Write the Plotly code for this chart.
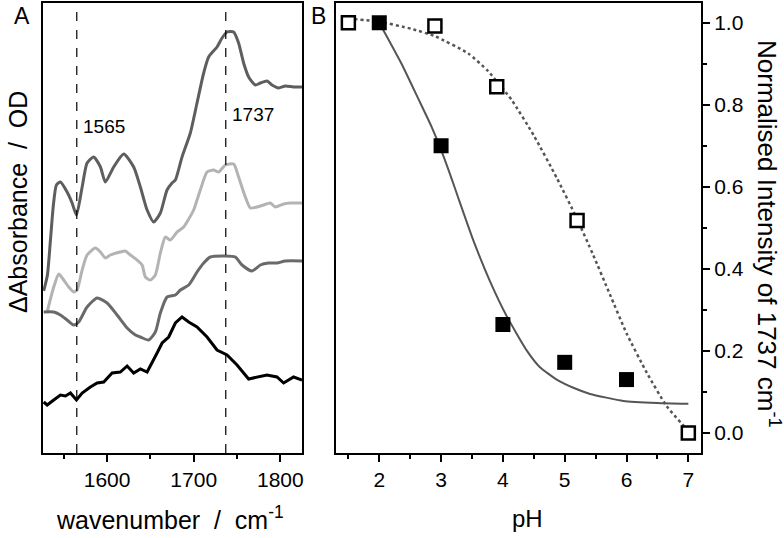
import plotly.graph_objects as go

# ---------------- Panel A: difference spectra (arbitrary ΔAbs units) ----------------
wn_top = [1526.8, 1531.1, 1534.6, 1538.0, 1541.5, 1546.1, 1553.8, 1559.6, 1564.6, 1571.2,
          1576.9, 1584.5, 1592.3, 1598.0, 1607.6, 1619.2, 1630.7, 1638.4, 1646.2, 1653.8,
          1661.5, 1669.2, 1675.0, 1678.8, 1686.5, 1696.1, 1703.8, 1711.5, 1717.2, 1726.9,
          1732.7, 1738.5, 1746.1, 1751.8, 1757.6, 1763.4, 1771.1, 1776.9, 1784.6, 1790.4,
          1798.0, 1805.7, 1815.3, 1825.0]
abs_top = [162, 178, 213, 248, 268, 271, 261, 250, 238, 266,
           290, 296, 286, 271, 286, 299, 286, 266, 243, 231,
           240, 263, 270, 273, 296, 320, 350, 380, 396, 406,
           415, 421, 421, 410, 390, 376, 368, 370, 372, 368,
           365, 367, 366, 366]

wn_light = [1530.8, 1538.4, 1544.2, 1549.9, 1555.7, 1561.5, 1565.4, 1571.2, 1576.9, 1586.5,
            1592.3, 1598.0, 1603.8, 1615.3, 1621.1, 1626.9, 1634.6, 1640.4, 1644.2, 1650.0,
            1655.7, 1661.5, 1667.3, 1673.0, 1680.8, 1688.4, 1699.9, 1703.8, 1707.6, 1715.4,
            1723.0, 1728.7, 1736.5, 1746.1, 1751.8, 1759.6, 1765.3, 1773.1, 1780.7, 1788.4,
            1794.2, 1803.8, 1811.5, 1825.0]
abs_light = [141, 166, 179, 173, 166, 161, 163, 183, 198, 205,
             201, 195, 198, 201, 202, 198, 193, 188, 176, 173,
             178, 200, 216, 213, 221, 226, 243, 253, 263, 281,
             283, 281, 288, 289, 276, 256, 245, 246, 248, 250,
             246, 249, 250, 250]

wn_mid = [1526.8, 1538.4, 1546.1, 1553.8, 1561.5, 1567.2, 1576.9, 1588.5, 1600.0, 1611.5,
          1623.1, 1632.7, 1638.4, 1648.0, 1655.7, 1661.5, 1669.2, 1678.8, 1684.6, 1694.2,
          1703.8, 1711.5, 1719.2, 1736.5, 1748.0, 1755.8, 1767.3, 1776.9, 1786.5, 1796.1,
          1805.7, 1825.0]
abs_mid = [141, 141, 138, 133, 128, 131, 146, 155, 150, 138,
           125, 118, 116, 113, 121, 140, 156, 158, 163, 168,
           181, 190, 196, 197, 196, 188, 182, 188, 190, 190,
           192, 192]

wn_black = [1526.8, 1530.8, 1538.4, 1546.1, 1551.9, 1557.7, 1564.6, 1571.2, 1580.7, 1588.5,
            1596.1, 1605.8, 1615.3, 1623.1, 1630.7, 1638.4, 1646.2, 1651.9, 1657.7, 1663.5,
            1671.1, 1678.8, 1686.5, 1694.2, 1703.8, 1715.4, 1726.9, 1738.5, 1750.0, 1763.4,
            1773.1, 1784.6, 1796.1, 1803.8, 1815.3, 1825.0]
abs_black = [51, 48, 53, 58, 57, 60, 53, 60, 66, 70,
             71, 80, 81, 87, 80, 84, 81, 90, 100, 110,
             116, 130, 136, 131, 126, 116, 103, 98, 88, 74,
             76, 78, 76, 70, 76, 73]

marker_lines = [1565, 1737]
marker_labels = ["1565", "1737"]
marker_label_y = [327, 338.5]

# ---------------- Panel B: normalised intensity vs pH ----------------
ph_filled = [2, 3, 4, 5, 6]
int_filled = [1.0, 0.70, 0.264, 0.172, 0.13]
ph_open = [1.5, 2.9, 3.9, 5.2, 7.0]
int_open = [1.0, 0.992, 0.844, 0.518, 0.0]

fit_ph_solid = [2.0, 2.36, 2.63, 2.85, 3.0, 3.17, 3.28, 3.52, 3.79, 4.06, 4.39, 4.6, 4.87, 5.14, 5.41, 5.95, 6.5, 7.0]
fit_solid = [1.0, 0.9, 0.815, 0.745, 0.69, 0.62, 0.572, 0.47, 0.37, 0.285, 0.2, 0.16, 0.13, 0.11, 0.095, 0.078, 0.073, 0.071]
fit_ph_dot = [1.5, 1.98, 2.52, 2.9, 3.44, 3.76, 4.14, 4.5, 4.87, 5.19, 5.46, 5.73, 6.0, 6.33, 6.65, 7.0]
fit_dot = [1.01, 1.003, 0.985, 0.967, 0.925, 0.882, 0.812, 0.725, 0.622, 0.525, 0.434, 0.338, 0.243, 0.146, 0.065, 0.005]

FONT = "Arial, Liberation Sans, sans-serif"

fig = go.Figure()

for wn, ab, col in [(wn_top, abs_top, "#5e5e5e"), (wn_light, abs_light, "#b3b3b3"),
                    (wn_mid, abs_mid, "#6a6a6a")]:
    fig.add_trace(go.Scatter(x=wn, y=ab, mode="lines", xaxis="x", yaxis="y",
                             line=dict(color=col, width=3, shape="spline", smoothing=0.6),
                             showlegend=False, hoverinfo="skip"))
fig.add_trace(go.Scatter(x=wn_black, y=abs_black, mode="lines", xaxis="x", yaxis="y",
                         line=dict(color="#000000", width=3),
                         showlegend=False, hoverinfo="skip"))

fig.add_trace(go.Scatter(x=fit_ph_solid, y=fit_solid, mode="lines", xaxis="x2", yaxis="y2",
                         line=dict(color="#555555", width=2, shape="spline", smoothing=0.5),
                         showlegend=False))
fig.add_trace(go.Scatter(x=fit_ph_dot, y=fit_dot, mode="lines", xaxis="x2", yaxis="y2",
                         line=dict(color="#555555", width=2.5, dash="dot", shape="spline", smoothing=0.5),
                         showlegend=False))
fig.add_trace(go.Scatter(x=ph_filled, y=int_filled, mode="markers", xaxis="x2", yaxis="y2",
                         marker=dict(symbol="square", size=15, color="#000000"),
                         showlegend=False))
fig.add_trace(go.Scatter(x=ph_open, y=int_open, mode="markers", xaxis="x2", yaxis="y2",
                         marker=dict(symbol="square", size=13, color="white",
                                     line=dict(color="#000000", width=2.5)),
                         showlegend=False))

shapes = []
for v in marker_lines:
    shapes.append(dict(type="line", xref="x", yref="y domain", x0=v, x1=v, y0=0, y1=1,
                       line=dict(color="black", width=1.2, dash="dash")))

annotations = []
for v, lab, yv in zip(marker_lines, marker_labels, marker_label_y):
    annotations.append(dict(x=v, y=yv, xref="x", yref="y", text=lab, showarrow=False,
                            xanchor="left", xshift=4, font=dict(size=19, family=FONT, color="black")))

def P(px, py):
    return (px - 43) / 658.0, (453 - py) / 450.0

for txt, (px, py), ang, sz in [
        ("A", (22, 16), 0, 23), ("B", (318, 16), 0, 23),
        ("ΔAbsorbance  /  OD", (18, 202), -90, 25),
        ("Normalised Intensity of 1737 cm<sup>-1</sup>", (769, 234), 90, 26),
        ("wavenumber  /  cm<sup>-1</sup>", (170, 518), 0, 25),
        ("pH", (527, 518), 0, 24)]:
    x, y = P(px, py)
    annotations.append(dict(x=x, y=y, xref="paper", yref="paper", text=txt, showarrow=False,
                            textangle=ang, xanchor="center", yanchor="middle",
                            font=dict(size=sz, family=FONT, color="black")))

axis_common = dict(showline=True, linecolor="black", linewidth=2, mirror=True, automargin=False,
                   showgrid=False, zeroline=False, ticks="outside", tickcolor="black",
                   tickwidth=1.5, ticklen=7, tickfont=dict(size=21, family=FONT, color="black"))

fig.update_layout(
    width=784, height=538,
    margin=dict(l=43, r=83, t=3, b=85, autoexpand=False),
    paper_bgcolor="white", plot_bgcolor="white",
    font=dict(family=FONT, color="black"),
    showlegend=False,
    xaxis=dict(domain=[0, 259 / 658], range=[1526, 1825], anchor="y",
               tick0=1600, dtick=100,
               minor=dict(ticks="outside", tick0=1550, dtick=50, ticklen=4, tickcolor="black", tickwidth=1.5),
               **axis_common),
    yaxis=dict(domain=[0, 1], range=[0, 450], anchor="x", showticklabels=False, automargin=False,
               showline=True, linecolor="black", linewidth=2, mirror=True,
               showgrid=False, zeroline=False, ticks=""),
    xaxis2=dict(domain=[292.7 / 658, 1], range=[1.295, 7.205], anchor="y2",
                tick0=1, dtick=1,
                minor=dict(ticks="outside", tick0=1.5, dtick=1, ticklen=4, tickcolor="black", tickwidth=1.5),
                **axis_common),
    yaxis2=dict(domain=[0, 1], range=[-0.049, 1.048], anchor="x2", side="right",
                tick0=0, dtick=0.2, tickformat=".1f",
                minor=dict(ticks="outside", tick0=0.1, dtick=0.2, ticklen=4, tickcolor="black", tickwidth=1.5),
                **axis_common),
    shapes=shapes,
    annotations=annotations,
)

fig.write_html("out.html", config={"displayModeBar": False},
               post_script="document.body.style.margin='0px';document.body.style.padding='0px';")
